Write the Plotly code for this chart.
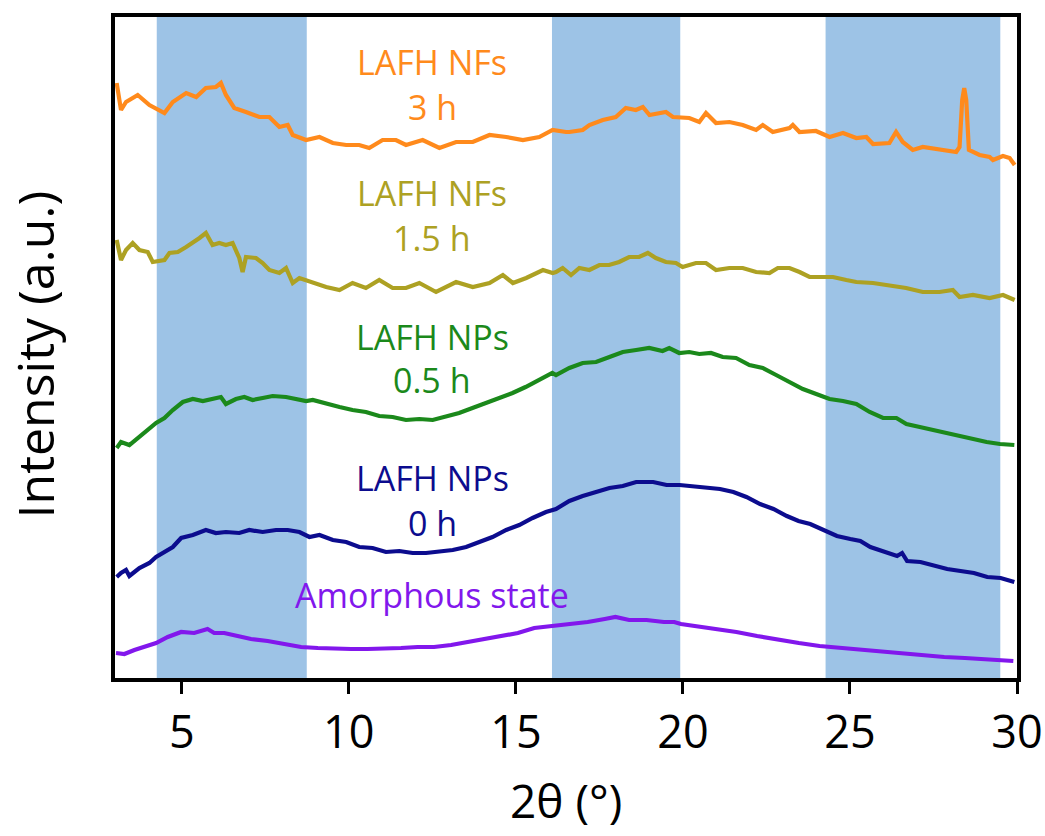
import plotly.graph_objects as go

# 2θ positions (degrees) and intensities (a.u., offset stacked) for each pattern
orange_x = [3.05, 3.18, 3.33, 3.68, 4.03, 4.48, 4.73, 5.13, 5.43, 5.72, 6.02, 6.17, 6.32,
            6.57, 6.92, 7.32, 7.62, 7.92, 8.17, 8.32, 8.72,
            9.12, 9.52, 9.92, 10.31, 10.61, 11.01, 11.41, 11.71,
            12.21, 12.71, 13.21, 13.71, 14.21, 14.71, 15.21, 15.70, 16.10, 16.50,
            16.60, 17.00, 17.20, 17.60, 17.99, 18.29, 18.59, 18.80, 19.00, 19.49,
            19.70, 20.19, 20.49, 20.69, 20.99, 21.39, 21.79, 22.19, 22.39, 22.69,
            23.19, 23.29, 23.49, 23.98, 24.39, 24.79, 25.19, 25.49, 25.69, 26.18,
            26.38, 26.58, 26.88, 27.18, 27.68, 28.18, 28.28, 28.36, 28.42, 28.48,
            28.56, 28.88, 29.18, 29.28, 29.58, 29.78, 29.93]
orange_y = [595, 568, 576, 583, 573, 565, 576, 585, 581, 590, 591, 595, 583,
            570, 566, 561, 561, 551, 553, 543, 538,
            541, 535, 533, 533, 530, 538, 538, 533,
            538, 530, 536, 536, 543, 541, 538, 541, 548, 546,
            546, 548, 553, 558, 561, 570, 568, 571, 563, 566,
            561, 560, 556, 565, 555, 556, 553, 548, 553, 546,
            550, 553, 546, 547, 541, 545, 540, 541, 534, 535,
            546, 536, 528, 531, 528, 526, 531, 578, 590, 578,
            528, 523, 521, 518, 522, 520, 513]

olive_x = [3.05, 3.18, 3.33, 3.53, 3.73, 3.98, 4.13, 4.48, 4.63, 4.88,
           5.13, 5.33, 5.53, 5.72, 5.92, 6.12, 6.32, 6.52, 6.72, 6.82,
           6.92, 7.22, 7.42, 7.62, 7.92, 8.12, 8.32, 8.52, 8.92, 9.32,
           9.72, 10.11, 10.51, 10.91, 11.31, 11.71, 12.11, 12.61, 13.21, 13.71,
           14.21, 14.61, 14.91, 15.31, 15.81, 16.10,
           16.20, 16.40, 16.65, 16.90, 17.20, 17.50, 17.79, 18.09, 18.39, 18.69,
           18.95, 19.19, 19.49, 19.79, 19.99, 20.39, 20.69, 20.99, 21.39, 21.79,
           22.19, 22.59, 22.84, 23.19, 23.49, 23.79, 24.19, 24.49, 24.89, 25.19,
           25.69, 26.18, 26.68, 27.18, 27.68, 28.08, 28.28, 28.68, 29.18, 29.58,
           29.93]
olive_y = [438, 418, 428, 435, 428, 426, 416, 418, 425, 426,
           431, 435, 440, 445, 433, 435, 433, 435, 420, 406,
           421, 420, 415, 408, 405, 410, 395, 400, 395, 391,
           388, 395, 390, 398, 390, 390, 395, 386, 396, 391,
           395, 403, 395, 400, 408, 405,
           406, 410, 403, 410, 408, 413, 413, 416, 421, 421,
           425, 420, 416, 415, 411, 415, 415, 408, 410, 410,
           406, 405, 410, 410, 406, 401, 401, 401, 398, 396,
           395, 393, 390, 386, 386, 388, 381, 383, 380, 383,
           378]

green_x = [3.05, 3.18, 3.43, 3.73, 3.98, 4.23, 4.48, 4.73, 5.03, 5.33,
           5.63, 5.92, 6.17, 6.32, 6.62, 6.87, 7.12, 7.42, 7.72, 8.12,
           8.42, 8.72, 8.92, 9.32, 9.72, 10.11, 10.51, 10.91, 11.31, 11.71,
           12.11, 12.51, 12.90, 13.30, 13.70, 14.10, 14.50, 14.90, 15.29, 15.69,
           16.09,
           16.20, 16.60, 17.00, 17.40, 17.80, 18.20, 18.60, 18.99, 19.39, 19.59,
           19.89, 20.19, 20.49, 20.84, 21.19, 21.59, 21.99, 22.39, 22.79, 23.19,
           23.59, 23.99, 24.39, 24.79, 25.19, 25.59, 25.99, 26.39, 26.69, 27.09,
           27.49, 27.89, 28.29, 28.69, 29.09, 29.49, 29.92]
green_y = [230, 236, 233, 241, 248, 255, 260, 268, 276, 279,
           277, 279, 281, 274, 279, 281, 278, 280, 282, 281,
           279, 277, 278, 274, 271, 268, 266, 262, 261, 258,
           259, 258, 261, 265, 270, 275, 280, 285, 291, 298,
           305,
           303, 310, 315, 316, 321, 326, 328, 330, 327, 330,
           325, 326, 324, 325, 321, 320, 313, 310, 303, 296,
           289, 284, 279, 277, 274, 266, 260, 260, 254, 251,
           248, 244, 241, 238, 236, 234, 233]

navy_x = [3.05, 3.18, 3.33, 3.43, 3.73, 4.03, 4.23, 4.48, 4.73, 4.98,
          5.33, 5.72, 6.02, 6.32, 6.72, 7.02, 7.42, 7.82, 8.17, 8.52,
          8.82, 9.12, 9.52, 9.92, 10.31, 10.71, 11.11, 11.51, 11.91, 12.31,
          12.71, 13.11, 13.51, 13.90, 14.30, 14.71, 15.10, 15.50, 15.90,
          16.20, 16.60, 17.00, 17.40, 17.80, 18.20, 18.60, 19.11, 19.51, 19.90,
          20.30, 20.71, 21.11, 21.51, 21.90, 22.31, 22.71, 23.11, 23.46, 23.81,
          24.21, 24.61, 25.01, 25.31, 25.61, 26.01, 26.41, 26.56, 26.71, 27.11,
          27.51, 27.91, 28.31, 28.71, 29.11, 29.51, 29.92]
navy_y = [101, 105, 108, 102, 110, 115, 121, 126, 131, 140,
          143, 148, 145, 146, 145, 148, 146, 148, 148, 146,
          141, 143, 138, 136, 131, 130, 126, 127, 125, 125,
          126, 128, 131, 136, 141, 148, 153, 160, 166,
          169, 177, 182, 186, 190, 192, 196, 196, 193, 193,
          192, 191, 189, 186, 181, 174, 169, 162, 157, 154,
          148, 142, 139, 137, 131, 127, 122, 125, 117, 116,
          112, 109, 107, 105, 101, 100, 96]

purple_x = [3.03, 3.28, 3.58, 3.88, 4.23, 4.58, 4.98, 5.37, 5.77, 5.97,
            6.27, 6.67, 7.07, 7.57, 8.07, 8.57, 9.07, 9.56, 10.07, 10.56,
            11.06, 11.56, 12.06, 12.55, 13.06, 13.56, 14.05, 14.56, 15.06, 15.55,
            16.11, 16.63, 17.15, 17.66, 17.98, 18.39, 18.91, 19.43, 19.74, 19.94,
            20.36, 20.98, 21.60, 22.22, 22.84, 23.47, 24.09, 24.71, 25.33, 25.95,
            26.57, 27.19, 27.82, 28.44, 29.06, 29.48, 29.89]
purple_y = [25, 24, 28, 31, 35, 41, 46, 45, 49, 45,
            45, 42, 39, 37, 34, 31, 30, 29, 29, 29,
            29, 30, 31, 31, 33, 36, 39, 42, 45, 50,
            52, 54, 56, 59, 61, 58, 58, 56, 56, 54,
            52, 49, 46, 42, 38, 35, 32, 30, 29, 26,
            24, 23, 21, 20, 19, 18, 17]

# Highlighted 2θ windows
band_start = [4.25, 16.08, 24.27]
band_end = [8.74, 19.92, 29.50]

x_ticks = [5, 10, 15, 20, 25, 30]
label_x = 12.5

# (x, y, colour, label lines, label heights)
series = [
    (orange_x, orange_y, "#FF8A1C", ["LAFH NFs", "3 h"], [616, 571]),
    (olive_x, olive_y, "#ADA123", ["LAFH NFs", "1.5 h"], [485, 440]),
    (green_x, green_y, "#1B891B", ["LAFH NPs", "0.5 h"], [341, 298]),
    (navy_x, navy_y, "#0C0C8E", ["LAFH NPs", "0 h"], [200, 155]),
    (purple_x, purple_y, "#8217EC", ["Amorphous state"], [83]),
]

FONT = "Open Sans"

fig = go.Figure()

for xs, ys, color, lines, ys_lab in series:
    fig.add_trace(go.Scatter(x=xs, y=ys, mode="lines",
                             line=dict(color=color, width=4.2),
                             hoverinfo="skip", showlegend=False))
    for text, yl in zip(lines, ys_lab):
        fig.add_annotation(x=label_x, y=yl, xref="x", yref="y", text=text,
                           showarrow=False, xanchor="center", yanchor="middle",
                           font=dict(family=FONT, size=34, color=color))

for x0, x1 in zip(band_start, band_end):
    fig.add_shape(type="rect", xref="x", yref="paper", x0=x0, x1=x1, y0=0, y1=1,
                  fillcolor="#9DC3E6", line=dict(width=0), layer="below")

# Axis titles
fig.add_annotation(xref="paper", yref="paper", x=0.5, y=-0.185, text="2θ (°)",
                   showarrow=False, xanchor="center", yanchor="middle",
                   font=dict(family=FONT, size=46, color="black"))
fig.add_annotation(xref="paper", yref="paper", x=-0.089, y=0.489, text="Intensity (a.u.)",
                   textangle=-90, showarrow=False, xanchor="center", yanchor="middle",
                   font=dict(family=FONT, size=50, color="black"))

fig.update_xaxes(range=[3, 30], tickvals=x_ticks, ticktext=[str(v) for v in x_ticks],
                 ticks="outside", ticklen=12, tickwidth=3, tickcolor="black",
                 showline=True, linewidth=4, linecolor="black", mirror=True,
                 showgrid=False, zeroline=False, automargin=False,
                 ticklabeloverflow="allow",
                 tickfont=dict(family=FONT, size=45, color="black"))
fig.update_yaxes(range=[0, 661], showticklabels=False, ticks="",
                 showline=True, linewidth=4, linecolor="black", mirror=True,
                 showgrid=False, zeroline=False, automargin=False)

fig.update_layout(width=1045, height=836,
                  margin=dict(l=115, r=28, t=17, b=158, autoexpand=False),
                  paper_bgcolor="white", plot_bgcolor="white",
                  showlegend=False)

fig.write_html("out.html")
